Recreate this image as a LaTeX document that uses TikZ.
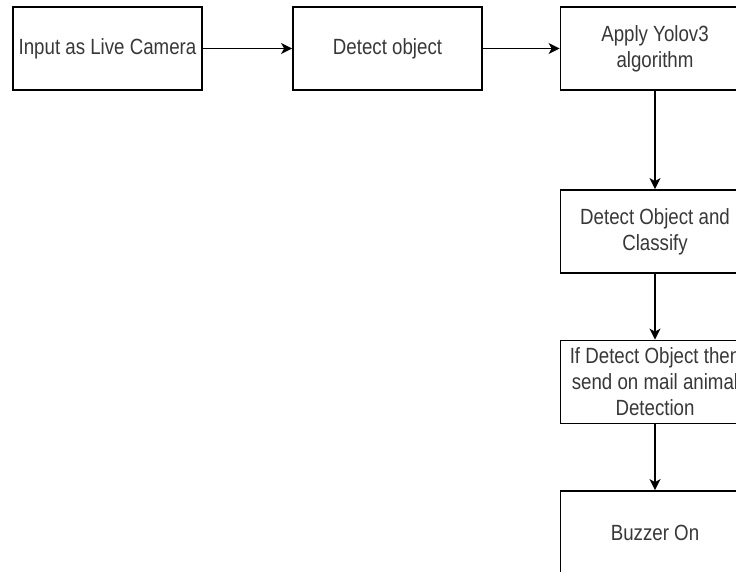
\documentclass[tikz,border=0pt]{standalone}
\usepackage{fontspec}
\setmainfont[FakeStretch=0.85]{Liberation Sans}
\usetikzlibrary{arrows.meta}
\begin{document}
\begin{tikzpicture}[x=1pt,y=-1pt,
  box/.style={draw=black, line width=1.8pt, rectangle, minimum width=189pt, minimum height=83pt,
    inner sep=0pt, align=center, text=black!78, font=\fontsize{22}{26}\selectfont},
  conn/.style={draw=black, line width=1.8pt, -{Stealth[length=11pt,width=11pt,inset=3pt]}}]
\useasboundingbox (0,0) rectangle (736,571);
\clip (0,0) rectangle (736,571);
\fill[white] (0,0) rectangle (736,571);
\node[box] (n1) at (107.5,48.5) {Input as Live Camera};
\node[box] (n2) at (387.5,48.5) {Detect object};
\node[box] (n3) at (655,48.5) {Apply Yolov3\\algorithm};
\node[box] (n4) at (655,231.5) {Detect Object and\\Classify};
\node[box] (n5) at (655,382) {If Detect Object then\\send on mail animal\\Detection};
\node[box] (n6) at (655,532.5) {Buzzer On};
\draw[conn] (n1) -- (n2);
\draw[conn] (n2) -- (n3);
\draw[conn] (n3) -- (n4);
\draw[conn] (n4) -- (n5);
\draw[conn] (n5) -- (n6);
\end{tikzpicture}
\end{document}
